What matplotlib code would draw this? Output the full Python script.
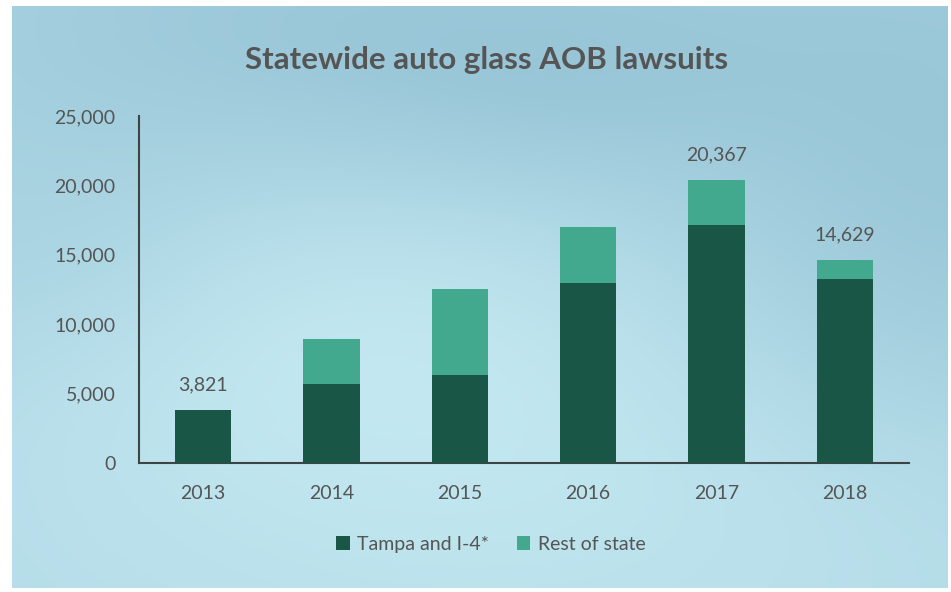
import matplotlib
matplotlib.use("Agg")
import matplotlib.pyplot as plt
import numpy as np

plt.rcParams['font.family'] = ['Lato', 'DejaVu Sans']

# data
years = ['2013', '2014', '2015', '2016', '2017', '2018']
tampa_i4 = [3821, 5710, 6360, 12980, 17130, 13270]
rest_of_state = [0, 3240, 6190, 3990, 3237, 1359]
labelled_totals = {0: '3,821', 4: '20,367', 5: '14,629'}
y_ticks = [0, 5000, 10000, 15000, 20000, 25000]

DARK = '#1a5646'
LIGHT = '#42a98e'
TEXT = '#555555'

fig = plt.figure(figsize=(9.51, 5.92), dpi=100)
fig.patch.set_facecolor('white')

# watercolour-ish background panel
bg = fig.add_axes([12 / 951, 4 / 592, 936 / 951, 582 / 592])
bg.axis('off')
h, w = 300, 480
yy, xx = np.mgrid[0:1:h * 1j, 0:1:w * 1j]
base = np.array([0.69, 0.85, 0.90])
shade = np.zeros((h, w))
# soft blotches (darker top / right, lighter centre and bottom)
for cx, cy, r, a in [(0.10, 0.05, 0.25, -0.05), (0.95, 0.10, 0.30, -0.08),
                     (0.40, 0.08, 0.20, -0.05), (0.60, 0.15, 0.15, -0.03),
                     (0.55, 0.55, 0.30, 0.04), (0.25, 0.50, 0.22, 0.03),
                     (0.70, 0.90, 0.35, 0.03), (0.15, 0.90, 0.30, 0.02),
                     (0.98, 0.50, 0.20, -0.05), (0.05, 0.45, 0.15, -0.03)]:
    shade += a * np.exp(-((xx - cx) ** 2 + (yy - cy) ** 2) / (2 * r ** 2))
img = np.clip(base[None, None, :] + shade[:, :, None] * np.array([1.0, 0.8, 0.6]), 0, 1)
bg.imshow(img, aspect='auto', extent=[0, 1, 0, 1], origin='upper')
bg.set_xlim(0, 1)
bg.set_ylim(0, 1)

ax = fig.add_axes([139 / 951, 1 - 463 / 592, 770 / 951, 347 / 592])
ax.patch.set_alpha(0)

x = np.arange(len(years))
ax.bar(x, tampa_i4, width=0.44, color=DARK, label='Tampa and I-4*', zorder=3)
ax.bar(x, rest_of_state, width=0.44, bottom=tampa_i4, color=LIGHT,
       label='Rest of state', zorder=3)

totals = [a + b for a, b in zip(tampa_i4, rest_of_state)]
for i, lab in labelled_totals.items():
    ax.annotate(lab, (x[i], totals[i]), xytext=(0, 12), textcoords='offset points',
                ha='center', va='bottom', fontsize=14, color=TEXT)

ax.set_xlim(-0.5, 5.5)
ax.set_ylim(0, 25000)
ax.set_xticks(x)
ax.set_xticklabels(years)
ax.set_yticks(y_ticks)
ax.set_yticklabels([f'{v:,}' for v in y_ticks])
ax.tick_params(axis='both', length=0, labelsize=14, labelcolor=TEXT)
ax.tick_params(axis='y', pad=17)
ax.tick_params(axis='x', pad=16)
for s in ['top', 'right']:
    ax.spines[s].set_visible(False)
for s in ['left', 'bottom']:
    ax.spines[s].set_color('#3d4446')
    ax.spines[s].set_linewidth(1.5)

fig.text(487 / 951, 1 - 60 / 592, 'Statewide auto glass AOB lawsuits', ha='center',
         va='center', fontsize=22.5, fontweight='bold', color='#555555')

ax.legend(loc='center', bbox_to_anchor=(0.457, -0.235), ncol=2, frameon=False,
          fontsize=14, labelcolor=TEXT, handlelength=0.7, handleheight=0.7,
          handletextpad=0.4, columnspacing=1.4)

fig.savefig('out.png', dpi=100)
